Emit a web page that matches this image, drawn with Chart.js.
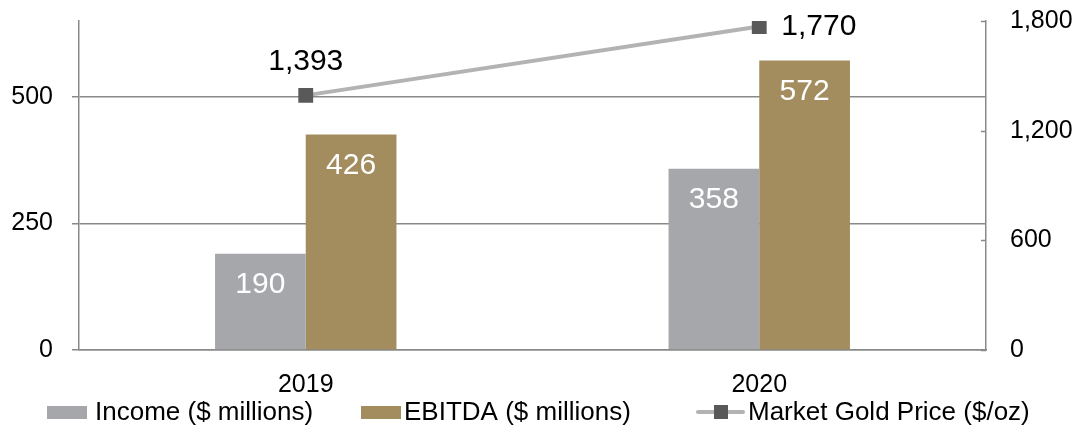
<!DOCTYPE html>
<html>
<head>
<meta charset="utf-8">
<script src="https://cdn.jsdelivr.net/npm/chart.js@4.4.1/dist/chart.umd.min.js"></script>
<style>
html,body{margin:0;padding:0;background:#fff;}
#wrap{width:1082px;height:437px;position:relative;}
</style>
</head>
<body>
<div id="wrap"><canvas id="c"></canvas></div>
<script>
const categories = ['2019', '2020'];
const incomeValues = [190, 358];
const ebitdaValues = [426, 572];
const goldPrice = [1393, 1770];
const seriesNames = ['Income ($ millions)', 'EBITDA ($ millions)', 'Market Gold Price ($/oz)'];
const leftAxis = {min: 0, max: 650, step: 250};
const rightAxis = {min: 0, max: 1800, step: 600};

const FONT = '"Liberation Sans", Arial, sans-serif';
const AXIS = '#898989';
const C_INCOME = '#a6a7ab';
const C_EBITDA = '#a38d5e';
const C_LINE = '#b3b3b3';
const C_MARK = '#595959';
const TICK_SIZE = 25;

const fmt = v => Number(v).toLocaleString('en-US');

const labelPlugin = {
  id: 'labels',
  afterDatasetsDraw(chart) {
    const ctx = chart.ctx;
    ctx.save();
    ctx.textAlign = 'center';
    ctx.textBaseline = 'middle';
    ctx.font = '30px ' + FONT;
    ctx.fillStyle = '#ffffff';
    [0, 1].forEach(di => {
      chart.getDatasetMeta(di).data.forEach((el, i) => {
        ctx.fillText(fmt(chart.data.datasets[di].data[i]), el.x, el.y + 31);
      });
    });
    ctx.fillStyle = '#000000';
    chart.getDatasetMeta(2).data.forEach((el, i) => {
      const v = fmt(chart.data.datasets[2].data[i]);
      if (i === 0) {
        ctx.textAlign = 'center';
        ctx.fillText(v, el.x, el.y - 34);
      } else {
        ctx.textAlign = 'left';
        ctx.fillText(v, el.x + 22, el.y);
      }
    });
    ctx.restore();
  },
  afterDraw(chart) {
    const ctx = chart.ctx;
    ctx.save();
    const r = chart.scales.y1;
    ctx.strokeStyle = AXIS;
    ctx.lineWidth = 1.5;
    r.ticks.forEach(t => {
      const y = Math.round(r.getPixelForValue(t.value)) + 0.5;
      ctx.beginPath();
      ctx.moveTo(r.left, y);
      ctx.lineTo(r.left - 5, y);
      ctx.stroke();
    });
    ctx.font = '26px ' + FONT;
    ctx.textBaseline = 'middle';
    ctx.textAlign = 'left';
    const cy = 413;
    const starts = [47, 361, 698];
    ctx.fillStyle = C_INCOME;
    ctx.fillRect(starts[0], cy - 7, 40, 13);
    ctx.fillStyle = '#000';
    ctx.fillText(seriesNames[0], starts[0] + 48, cy);
    ctx.fillStyle = C_EBITDA;
    ctx.fillRect(starts[1], cy - 7, 40, 13);
    ctx.fillStyle = '#000';
    ctx.fillText(seriesNames[1], starts[1] + 43, cy);
    ctx.strokeStyle = C_LINE;
    ctx.lineWidth = 4;
    ctx.lineCap = 'round';
    ctx.beginPath();
    ctx.moveTo(starts[2], cy - 1);
    ctx.lineTo(starts[2] + 45, cy - 1);
    ctx.stroke();
    ctx.fillStyle = C_MARK;
    ctx.fillRect(starts[2] + 16, cy - 8, 14, 14);
    ctx.fillStyle = '#000';
    ctx.fillText(seriesNames[2], starts[2] + 50, cy);
    ctx.restore();
  }
};

const fitV = w => s => { s.width = w; s.paddingTop = 0; s.paddingBottom = 0; };

new Chart(document.getElementById('c'), {
  type: 'bar',
  data: {
    labels: categories,
    datasets: [
      {label: seriesNames[0], data: incomeValues, backgroundColor: C_INCOME, yAxisID: 'y', order: 2,
       categoryPercentage: 0.4, barPercentage: 1.0},
      {label: seriesNames[1], data: ebitdaValues, backgroundColor: C_EBITDA, yAxisID: 'y', order: 2,
       categoryPercentage: 0.4, barPercentage: 1.0},
      {type: 'line', label: seriesNames[2], data: goldPrice, yAxisID: 'y1', order: 0,
       borderColor: C_LINE, borderWidth: 4, pointStyle: 'rect', pointRadius: 10.5,
       pointBackgroundColor: C_MARK, pointBorderColor: C_MARK, pointBorderWidth: 0, tension: 0}
    ]
  },
  options: {
    responsive: true,
    maintainAspectRatio: false,
    animation: false,
    layout: {padding: {top: 21, bottom: 0, left: 0, right: 0}},
    plugins: {legend: {display: false}, tooltip: {enabled: false}},
    scales: {
      x: {
        grid: {display: false, drawTicks: false},
        border: {display: true, color: AXIS, width: 1.5},
        ticks: {color: '#000', font: {family: FONT, size: TICK_SIZE}, padding: 20},
        afterFit: s => { s.height = 87; s.paddingLeft = 0; s.paddingRight = 0; }
      },
      y: {
        position: 'left',
        min: leftAxis.min, max: leftAxis.max,
        grid: {color: AXIS, lineWidth: 1.5, tickLength: 7},
        border: {display: true, color: AXIS, width: 1.5},
        ticks: {stepSize: leftAxis.step, includeBounds: false, color: '#000',
                font: {family: FONT, size: TICK_SIZE}, padding: 19, callback: v => fmt(v)},
        afterFit: fitV(79)
      },
      y1: {
        position: 'right',
        min: rightAxis.min, max: rightAxis.max,
        grid: {drawOnChartArea: false, drawTicks: false},
        border: {display: true, color: AXIS, width: 1.5},
        ticks: {stepSize: rightAxis.step, color: '#000', font: {family: FONT, size: TICK_SIZE},
                padding: 24, callback: v => fmt(v)},
        afterFit: fitV(96)
      }
    }
  },
  plugins: [labelPlugin]
});
</script>
</body>
</html>
